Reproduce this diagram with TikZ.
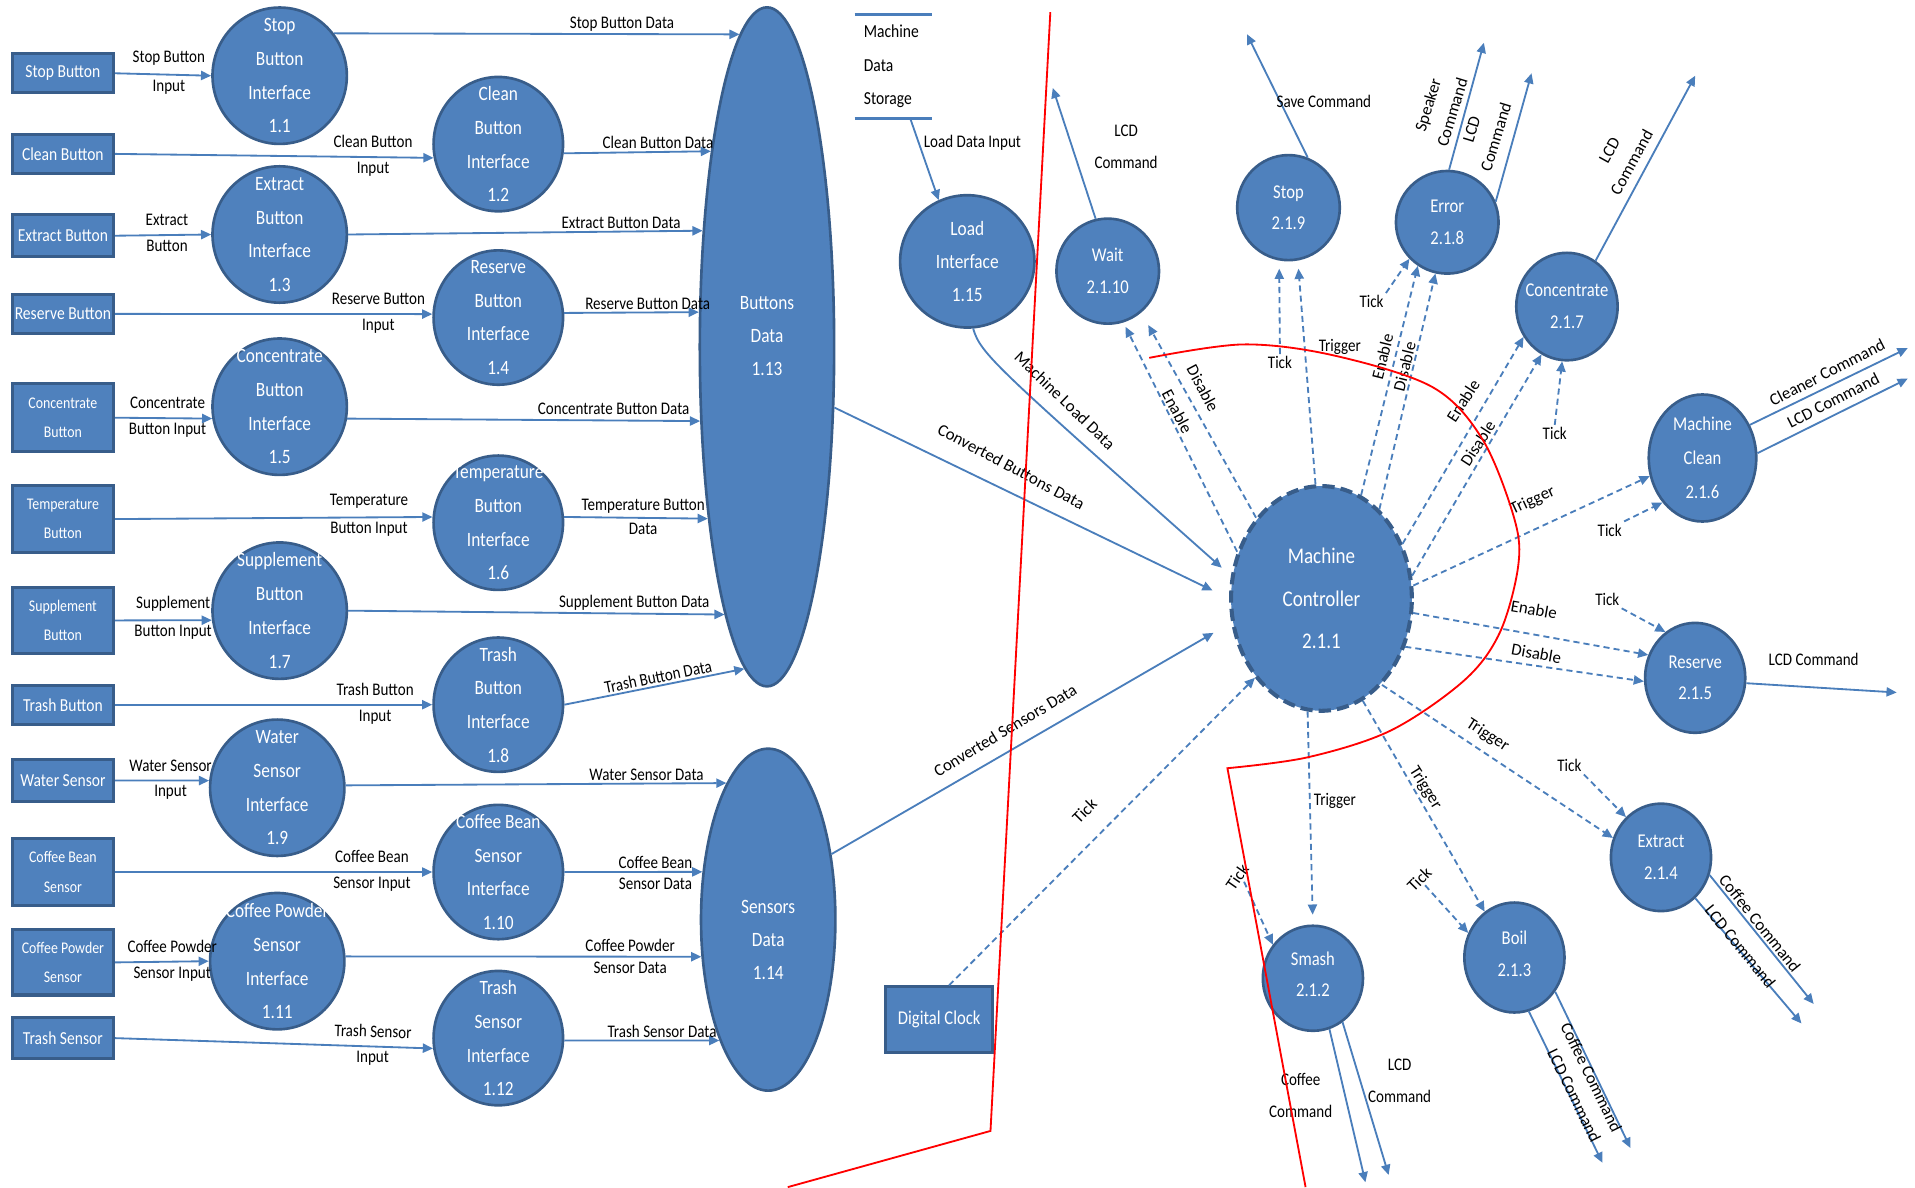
\documentclass[tikz,border=0pt]{standalone}
\usepackage{fontspec}
\setmainfont{Carlito}
\newfontfamily\nf{Carlito}[FakeStretch=0.85]
\usetikzlibrary{shapes.geometric,arrows.meta}
\definecolor{bfill}{RGB}{79,129,189}
\definecolor{bdr}{RGB}{56,93,138}
\definecolor{arr}{RGB}{74,126,187}
\definecolor{redl}{RGB}{255,0,0}
\tikzset{
  inbox/.style={rectangle,draw=bdr,fill=bfill,line width=1.5pt,text=white,minimum width=49.8pt,inner sep=0.5pt,align=center,font=\nf\fontsize{9}{15}\selectfont},
  inbox2/.style={inbox,font=\nf\fontsize{8}{14.5}\selectfont},
  proc/.style={ellipse,draw=bdr,fill=bfill,line width=1.3pt,inner sep=0pt},
  ptxt/.style={text=white,align=center,inner sep=0pt,font=\nf\fontsize{10}{16.6}\selectfont},
  stxt/.style={text=white,align=center,inner sep=0pt,font=\nf\fontsize{9.6}{15.6}\selectfont},
  cA/.style={proc,minimum width=66pt,minimum height=67pt},
  cB/.style={proc,minimum width=63.6pt,minimum height=66pt},
  flow/.style={draw=arr,line width=0.9pt,-{Triangle[length=5pt,width=4.5pt]}},
  dflow/.style={flow,dash pattern=on 3pt off 2pt},
  lab/.style={text=black,inner sep=1pt,align=center,font=\nf\fontsize{8.7}{15.6}\selectfont},
  rlab/.style={text=black,inner sep=1pt,align=center,font=\fontsize{8.3}{12.5}\selectfont},
  redline/.style={draw=redl,line width=0.9pt},
}
\begin{document}
\begin{tikzpicture}[x=0.6pt,y=-0.6pt]
\useasboundingbox (0,0) rectangle (1568,972);

% ---------- input boxes
\node[inbox,minimum height=19.2pt] (b1) at (51.5,60) {Stop Button};
\node[inbox,minimum height=19.2pt] (b2) at (51.5,126) {Clean Button};
\node[inbox,minimum height=20.4pt] (b3) at (51.5,193) {Extract Button};
\node[inbox,minimum height=19.2pt] (b4) at (51.5,257) {Reserve Button};
\node[inbox2,minimum height=33.6pt] (b5) at (51.5,342) {Concentrate\\Button};
\node[inbox2,minimum height=33pt] (b6) at (51.5,425) {Temperature\\Button};
\node[inbox2,minimum height=32.4pt] (b7) at (51.5,508) {Supplement\\Button};
\node[inbox,minimum height=19.2pt] (b8) at (51.5,577) {Trash Button};
\node[inbox,minimum height=21pt] (b9) at (51.5,639) {Water Sensor};
\node[inbox2,minimum height=33pt] (b10) at (51.5,714) {Coffee Bean\\Sensor};
\node[inbox2,minimum height=32pt] (b11) at (51.5,788) {Coffee Powder\\Sensor};
\node[inbox,minimum height=20.4pt] (b12) at (51.5,850) {Trash Sensor};

% ---------- interface processes
\node[cA,label={[ptxt]center:{Stop\\Button\\Interface\\1.1}}] (c11) at (229,62) {};
\node[cA,label={[ptxt]center:{Extract\\Button\\Interface\\1.3}}] (c13) at (229,192) {};
\node[cA,label={[ptxt]center:{Concentrate\\Button\\Interface\\1.5}}] (c15) at (229,333) {};
\node[cA,label={[ptxt]center:{Supplement\\Button\\Interface\\1.7}}] (c17) at (229,500) {};
\node[cA,label={[ptxt]center:{Water\\Sensor\\Interface\\1.9}}] (c19) at (227,645) {};
\node[cA,label={[ptxt]center:{Coffee Powder\\Sensor\\Interface\\1.11}}] (c111) at (227,787) {};
\node[cB,label={[ptxt]center:{Clean\\Button\\Interface\\1.2}}] (c12) at (408,118) {};
\node[cB,label={[ptxt]center:{Reserve\\Button\\Interface\\1.4}}] (c14) at (408,260) {};
\node[cB,label={[ptxt]center:{Temperature\\Button\\Interface\\1.6}}] (c16) at (408,428) {};
\node[cB,label={[ptxt]center:{Trash\\Button\\Interface\\1.8}}] (c18) at (408,577) {};
\node[cB,label={[ptxt]center:{Coffee Bean\\Sensor\\Interface\\1.10}}] (c110) at (408,714) {};
\node[cB,label={[ptxt]center:{Trash\\Sensor\\Interface\\1.12}}] (c112) at (408,850) {};

% ---------- data stores
\node[proc,minimum width=66pt,minimum height=333.6pt,label={[ptxt,yshift=5.4pt,font=\nf\fontsize{10}{16.2}\selectfont]center:{Buttons\\Data\\1.13}}] (bd) at (628,284) {};
\node[proc,minimum width=66pt,minimum height=168pt,label={[ptxt,yshift=-10pt,font=\nf\fontsize{10}{16.2}\selectfont]center:{Sensors\\Data\\1.14}}] (sd) at (629,753) {};

% ---------- inputs
\draw[flow] (b1.east) -- (c11.180) node[lab,above=3pt,pos=0.56] (i1a) {Stop Button} node[lab,below=1pt,pos=0.56] (i1b) {Input};
\draw[flow] (b2.east) -- (c12.192) node[lab,above=3pt,pos=0.81] (i2a) {Clean Button} node[lab,below=1pt,pos=0.81] (i2b) {Input};
\draw[flow] (b3.east) -- (c13.180) node[lab,above=3pt,pos=0.54] (i3a) {Extract} node[lab,below=1pt,pos=0.54] (i3b) {Button};
\draw[flow] (b4.east) -- (c14.177) node[lab,above=3pt,pos=0.83] (i4a) {Reserve Button} node[lab,below=1pt,pos=0.83] (i4b) {Input};
\draw[flow] (b5.east) -- (c15.190) node[lab,above=3pt,pos=0.54] (i5a) {Concentrate} node[lab,below=1pt,pos=0.54] (i5b) {Button Input};
\draw[flow] (b6.east) -- (c16.175) node[lab,above=3pt,pos=0.8] (i6a) {Temperature} node[lab,below=1pt,pos=0.8] (i6b) {Button Input};
\draw[flow] (b7.east) -- (c17.188) node[lab,above=3pt,pos=0.6] (i7a) {Supplement} node[lab,below=1pt,pos=0.6] (i7b) {Button Input};
\draw[flow] (b8.east) -- (c18.180) node[lab,above=3pt,pos=0.82] (i8a) {Trash Button} node[lab,below=1pt,pos=0.82] (i8b) {Input};
\draw[flow] (b9.east) -- (c19.174) node[lab,above=3pt,pos=0.59] (i9a) {Water Sensor} node[lab,below=1pt,pos=0.59] (i9b) {Input};
\draw[flow] (b10.east) -- (c110.180) node[lab,above=3pt,pos=0.81] (i10a) {Coffee Bean} node[lab,below=1pt,pos=0.81] (i10b) {Sensor Input};
\draw[flow] (b11.east) -- (c111.180) node[lab,above=3pt,pos=0.61] (i11a) {Coffee Powder} node[lab,below=1pt,pos=0.61] (i11b) {Sensor Input};
\draw[flow] (b12.east) -- (c112.189) node[lab,sloped,above=3pt,pos=0.81] (i12a) {Trash Sensor} node[lab,below=1pt,pos=0.81] (i12b) {Input};

% ---------- data flows
\draw[flow] (c11.38) -- (bd.95) node[lab,above,pos=0.71] (d1) {Stop Button Data};
\draw[flow] (c12.-8) -- (bd.106) node[lab,above,pos=0.64] (d2) {Clean Button Data};
\draw[flow] (c13.0) -- (bd.119) node[lab,above,pos=0.77] (d3) {Extract Button Data};
\draw[flow] (c14.4) -- (bd.153) node[lab,above,pos=0.62] (d4) {Reserve Button Data};
\draw[flow] (c15.-10) -- (bd.228) node[lab,above=1.5pt,pos=0.755] (d5) {Concentrate Button Data};
\draw[flow] (c16.5) -- (bd.251) node[lab,above=1pt,pos=0.55] (d6a) {Temperature Button} node[lab,below=1pt,pos=0.55] (d6b) {Data};
\draw[flow] (c17.0) -- (bd.261) node[lab,above,pos=0.76] (d7) {Supplement Button Data};
\draw[flow] (c18.0) -- (bd.266) node[lab,sloped,above,pos=0.53] (d8) {Trash Button Data};
\draw[flow] (c19.2) -- (sd.107) node[lab,above,pos=0.79] (d9) {Water Sensor Data};
\draw[flow] (c110.0) -- (sd.144) node[lab,above,pos=0.66] (d10a) {Coffee Bean} node[lab,below=1.5pt,pos=0.66] (d10b) {Sensor Data};
\draw[flow] (c111.4) -- (sd.209) node[lab,above=1pt,pos=0.8] (d11a) {Coffee Powder} node[lab,below=1pt,pos=0.8] (d11b) {Sensor Data};
\draw[flow] (c112.-2) -- (sd.248) node[lab,above,pos=0.63] (d12) {Trash Sensor Data};

% ---------- middle
\node[lab,minimum width=37.8pt,minimum height=51pt,text width=29pt,align=left,inner xsep=4.4pt,font=\nf\fontsize{9}{16.5}\selectfont] (mds) at (731.5,54.5) {Machine\\Data\\Storage};
\draw[draw=arr,line width=1.4pt] (mds.north west) -- (mds.north east) (mds.south west) -- (mds.south east);
\node[proc,minimum width=66pt,minimum height=65pt,label={[ptxt,font=\nf\fontsize{10}{16.2}\selectfont]center:{Load\\Interface\\1.15}}] (li) at (792,214) {};
\draw[flow] (mds.-72) -- (li.115) node[lab,right=1pt,pos=0.3] (ldi) {Load Data Input};

\node[inbox,minimum width=52.8pt,minimum height=32.4pt,font=\nf\fontsize{9.6}{12}\selectfont] (dc) at (769,835) {Digital Clock};

\node[proc,dash pattern=on 6pt off 3pt,line width=2pt,minimum width=88.8pt,minimum height=110.4pt,label={[ptxt,font=\nf\fontsize{11}{21}\selectfont]center:{Machine\\Controller\\2.1.1}}] (mc) at (1082,490) {};

\draw[flow,shorten >=6pt] (li.-85) .. controls (803,290) and (815,300) .. (mc.166);
\node[rlab,rotate=-44] (lmld) at (872,328) {Machine Load Data};
\draw[flow,shorten >=9pt] (bd.-42) -- (mc.180);
\node[rlab,rotate=-28] (lcbd) at (828,382) {Converted Buttons Data};
\draw[flow,shorten >=10pt] (sd.46) -- (mc.195);
\node[rlab,rotate=31] (lcsd) at (823,598) {Converted Sensors Data};
\draw[dflow] (dc.74) -- (mc.230);
\node[rlab,rotate=45] (ltdc) at (888,664) {Tick};

% ---------- state processes
\node[proc,minimum width=50.4pt,minimum height=51.6pt,label={[stxt]center:{Wait\\2.1.10}}] (wait) at (907,222) {};
\node[proc,minimum width=50.4pt,minimum height=51.6pt,label={[stxt]center:{Stop\\2.1.9}}] (stop) at (1055,170) {};
\node[proc,minimum width=50.4pt,minimum height=50.4pt,label={[stxt]center:{Error\\2.1.8}}] (err) at (1185,182) {};
\node[proc,minimum width=49.8pt,minimum height=52.8pt,label={[stxt]center:{Concentrate\\2.1.7}}] (conc) at (1283,251) {};
\node[proc,minimum width=52.8pt,minimum height=62.4pt,label={[stxt,font=\nf\fontsize{9.6}{16.8}\selectfont]center:{Machine\\Clean\\2.1.6}}] (mclean) at (1394,375) {};
\node[proc,minimum width=49.2pt,minimum height=54pt,label={[stxt]center:{Reserve\\2.1.5}}] (res) at (1388,555) {};
\node[proc,minimum width=49.2pt,minimum height=52.8pt,label={[stxt]center:{Extract\\2.1.4}}] (ext) at (1360,702) {};
\node[proc,minimum width=49.2pt,minimum height=54pt,label={[stxt,yshift=2pt]center:{Boil\\2.1.3}}] (boil) at (1240,784) {};
\node[proc,minimum width=49.2pt,minimum height=51.6pt,label={[stxt,yshift=2pt]center:{Smash\\2.1.2}}] (smash) at (1075,801) {};

% ---------- control flows (dashed)
\draw[dflow,shorten >=2.4pt] (mc.151) -- (wait.-73);
\draw[dflow,shorten >=7pt] (mc.129) -- (wait.-51);
\node[rlab,rotate=-62] (lwE) at (964,337) {Enable};
\node[rlab,rotate=-62] (lwD) at (985,318) {Disable};

\draw[dflow,shorten >=4pt] (mc.93) -- (stop.-80);
\node[lab] (ltS) at (1097,284) {Trigger};
\node[lab] (tS) at (1048,297) {Tick};
\draw[dflow,shorten >=4pt] (tS.north) -- (stop.-100);

\node[lab] (tE) at (1123,247) {Tick};
\draw[dflow] (tE.north east) -- (err.224);
\draw[dflow] (mc.69) -- (err.236);
\draw[dflow] (mc.57) -- (err.257);
\node[rlab,rotate=76] (leE) at (1132,292) {Enable};
\node[rlab,rotate=76] (leD) at (1150,300) {Disable};

\draw[dflow] (mc.34) -- (conc.215);
\draw[dflow] (mc.14) -- (conc.242);
\node[rlab,rotate=57] (lcE) at (1198,328) {Enable};
\node[rlab,rotate=57] (lcD) at (1210,363) {Disable};
\node[lab] (tC) at (1273,355) {Tick};
\draw[dflow] (tC.north) -- (conc.265);

\draw[dflow] (mc.8) -- (mclean.199);
\node[rlab,rotate=25] (lmT) at (1255,410) {Trigger};
\node[lab] (tM) at (1318,434) {Tick};
\draw[dflow] (tM.north east) -- (mclean.228);

\draw[dflow] (mc.-9) -- (res.154);
\draw[dflow] (mc.-30) -- (res.184);
\node[rlab,rotate=-10] (lrE) at (1256,499) {Enable};
\node[rlab,rotate=-10] (lrD) at (1258,535) {Disable};
\node[lab] (tR) at (1316,491) {Tick};
\draw[dflow] (tR.south east) -- (res.123);

\draw[dflow] (mc.-55) -- (ext.158);
\node[rlab,rotate=-33] (lxT) at (1218,602) {Trigger};
\node[lab] (tX) at (1285,627) {Tick};
\draw[dflow] (tX.south east) -- (ext.131);

\draw[dflow] (mc.-68) -- (boil.123);
\node[rlab,rotate=-58] (lbT) at (1167,645) {Trigger};
\node[rlab,rotate=45] (tB) at (1162,720) {Tick};
\draw[dflow] (tB.south) -- (boil.152);

\draw[dflow,shorten >=4.8pt] (mc.-97) -- (smash.90);
\node[lab] (lsT) at (1093,656) {Trigger};
\node[rlab,rotate=55] (tSm) at (1013,718) {Tick};
\draw[dflow] (tSm.south) -- (smash.140);

% ---------- outputs
\coordinate (wO) at (862,72);
\draw[flow] (wait.103) -- (wO);
\node[lab] (lwO) at (922,120) {LCD\\Command};
\coordinate (sO) at (1021,28);
\draw[flow] (stop.69) -- (sO);
\node[lab] (lsO) at (1084,83) {Save Command};
\coordinate (eO1) at (1215,35);
\draw[flow] (err.88) -- (eO1);
\coordinate (eO2) at (1254,60);
\draw[flow] (err.23) -- (eO2);
\node[rlab,rotate=73] (leO1) at (1179,89) {Speaker\\Command};
\node[rlab,rotate=73] (leO2) at (1215,109) {LCD\\Command};
\coordinate (cO) at (1388,62);
\draw[flow] (conc.58) -- (cO);
\node[rlab,rotate=61] (lcO) at (1327,128) {LCD\\Command};
\coordinate (mO1) at (1562,285);
\draw[flow] (mclean.35) -- (mO1);
\coordinate (mO2) at (1562,310);
\draw[flow] (mclean.5) -- (mO2);
\node[rlab,rotate=27] (lmO1) at (1496,305) {Cleaner Command};
\node[rlab,rotate=27] (lmO2) at (1501,328) {LCD Command};
\coordinate (rO) at (1553,567);
\draw[flow] (res.-6) -- (rO);
\node[lab] (lrO) at (1485,540) {LCD Command};
\coordinate (xO1) at (1485,822);
\draw[flow] (ext.-20) -- (xO1);
\coordinate (xO2) at (1475,838);
\draw[flow] (ext.-50) -- (xO2);
\node[rlab,rotate=-51] (lxO1) at (1441,756) {Coffee Command};
\node[rlab,rotate=-51] (lxO2) at (1425,775) {LCD Command};
\coordinate (boO1) at (1335,940);
\draw[flow] (boil.-40) -- (boO1);
\coordinate (boO2) at (1312,952);
\draw[flow] (boil.-75) -- (boO2);
\node[rlab,rotate=-64] (lbO1) at (1303,882) {Coffee Command};
\node[rlab,rotate=-64] (lbO2) at (1289,897) {LCD Command};
\coordinate (smO1) at (1118,968);
\draw[flow] (smash.-72) -- (smO1);
\coordinate (smO2) at (1137,962);
\draw[flow] (smash.-56) -- (smO2);
\node[lab] (lsO1) at (1065,897) {Coffee\\Command};
\node[lab] (lsO2) at (1146,885) {LCD\\Command};

% ---------- red annotation lines
\draw[redline] (860,10) -- (811,926) -- (645,972);
\draw[redline] plot[smooth,tension=0.55] coordinates {(941,293) (1018,282) (1092,291) (1173,317) (1214,360) (1240,425) (1243,464) (1228,518) (1199,557) (1139,598) (1071,620) (1005,629)} -- (1069,972);
\end{tikzpicture}
\end{document}
